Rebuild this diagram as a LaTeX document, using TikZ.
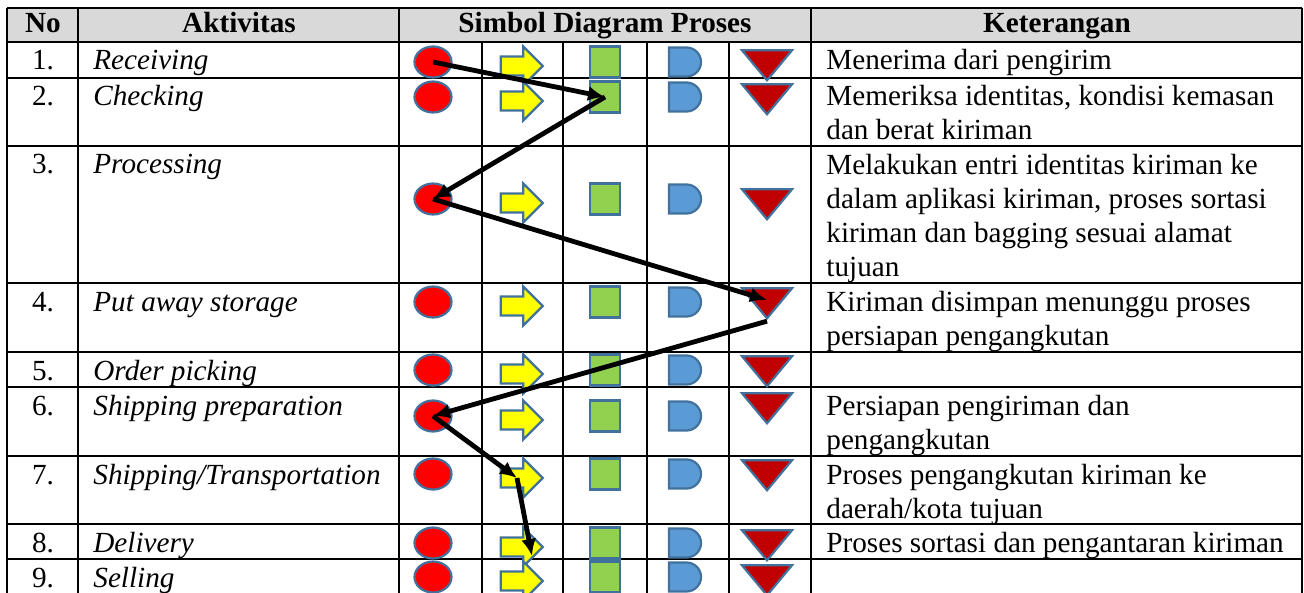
\documentclass[tikz,border=0pt]{standalone}
\usepackage{fontspec}
\setmainfont{Liberation Serif}
\usetikzlibrary{arrows.meta, shapes.geometric, shapes.arrows, shapes.misc}

\definecolor{bord}{HTML}{41719C}
\definecolor{opred}{HTML}{FF0000}
\definecolor{tryellow}{HTML}{FFFF00}
\definecolor{insgreen}{HTML}{92D050}
\definecolor{dlyblue}{HTML}{5B9BD5}
\definecolor{storred}{HTML}{C00000}
\definecolor{headgray}{HTML}{D9D9D9}

\begin{document}
\begin{tikzpicture}[x=0.5pt, y=-0.5pt, >={Latex[length=8.5pt,width=7.5pt]}, font=\fontsize{14.6}{17}\selectfont]
  \tikzstyle{sym}=[draw=bord, line width=1.1pt, inner sep=0pt]
  \tikzstyle{oper}=[sym, ellipse, fill=opred, minimum width=18.5pt, minimum height=15.5pt]
  \tikzstyle{trans}=[sym, single arrow, fill=tryellow, inner xsep=0pt, inner ysep=4.2pt, minimum height=21pt, single arrow head extend=5pt]
  \tikzstyle{insp}=[sym, rectangle, fill=insgreen, minimum width=15pt, minimum height=15.5pt]
  \tikzstyle{dly}=[sym, rounded rectangle, rounded rectangle left arc=none, fill=dlyblue, minimum width=16pt, minimum height=14.5pt]
  \tikzstyle{stor}=[sym, isosceles triangle, isosceles triangle stretches, shape border rotate=270, fill=storred, minimum width=25pt, minimum height=15pt]
  \tikzstyle{txt}=[inner sep=0pt, anchor=base west, align=left]
  \tikzstyle{num}=[inner sep=0pt, anchor=base]
  \tikzstyle{head}=[inner sep=0pt, anchor=base, font=\fontsize{14.6}{17}\selectfont\bfseries]
  \tikzstyle{flow}=[->, line width=2.4pt]

  \useasboundingbox (0,0) rectangle (1304,593);

  % table grid
  \fill[headgray] (7,8) rectangle (1302,42);
  \begin{scope}[line width=0.8pt]
    \foreach \y in {8,42,78,146,283,352,387,456,524,559}
      \draw (7,\y) -- (1302,\y);
    \foreach \x in {7,78,399,811,1302}
      \draw (\x,8) -- (\x,593);
    \foreach \x in {482,563,647,729}
      \draw (\x,42) -- (\x,593);
  \end{scope}

  % header
  \node[head] (hNo) at (43,33) {No};
  \node[head] (hAkt) at (239,33) {Aktivitas};
  \node[head] (hSim) at (605,33) {Simbol Diagram Proses};
  \node[head] (hKet) at (1057,33) {Keterangan};

  % activities
  \foreach \r/\y/\a in {1/70/Receiving, 2/106/Checking, 3/174/Processing,
      4/311/Put away storage, 5/380/Order picking, 6/415/Shipping preparation,
      7/484/{Shipping/Transportation}, 8/552/Delivery, 9/587/Selling} {
    \node[num] (no\r) at (43,\y) {\r.};
    \node[txt] (akt\r) at (93,\y) {\itshape \a};
  }

  % symbols per row
  \foreach \r/\y/\ty in {1/62/62, 2/97/96, 3/199/201, 4/302/300, 5/370/368,
      6/416/405, 7/474/472, 8/543/542, 9/577/577} {
    \node[oper] (op\r) at (433,\y) {};
    \node[trans] (tr\r) at (517,{\y+4}) {};
    \node[insp] (in\r) at (605,\y) {};
    \node[dly] (de\r) at (685,\y) {};
    \node[stor] (st\r) at (767,\ty) {};
  }

  % keterangan (placed on the baseline of the last line)
  \node[txt] (ket1) at (826,70) {Menerima dari pengirim};
  \node[txt] (ket2) at (826,140) {Memeriksa identitas, kondisi kemasan\\dan berat kiriman};
  \node[txt] (ket3) at (826,276) {Melakukan entri identitas kiriman ke\\dalam aplikasi kiriman, proses sortasi\\kiriman dan bagging sesuai alamat\\tujuan};
  \node[txt] (ket4) at (826,345) {Kiriman disimpan menunggu proses\\persiapan pengangkutan};
  \node[txt] (ket6) at (826,449) {Persiapan pengiriman dan\\pengangkutan};
  \node[txt] (ket7) at (826,518) {Proses pengangkutan kiriman ke\\daerah/kota tujuan};
  \node[txt] (ket8) at (826,552) {Proses sortasi dan pengantaran kiriman};

  % flow
  \draw[flow] (op1.center) -- (in2.center);
  \draw[flow] (in2.center) -- (op3.center);
  \draw[flow] (op3.center) -- (st4.center);
  \draw[flow] (st4.apex) -- (op6.center);
  \draw[flow] (op6.center) -- (tr7.center);
  \draw[flow] (tr7.center) -- ([shift={(15,9)}]tr8.center);
\end{tikzpicture}
\end{document}
